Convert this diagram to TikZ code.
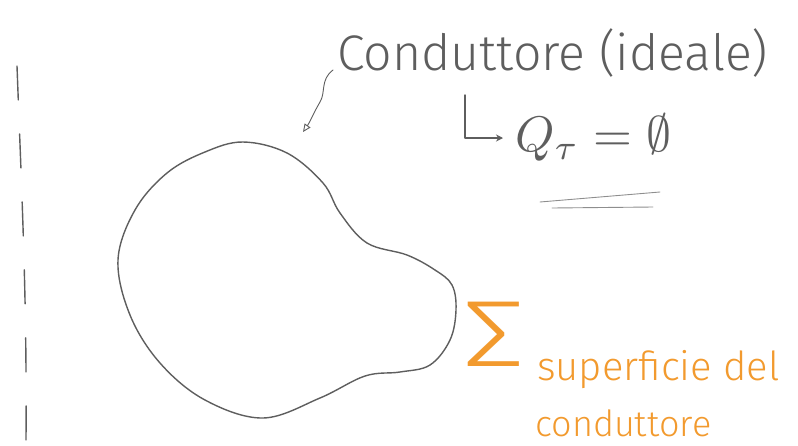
\documentclass[tikz,border=0pt]{standalone}
\usepackage{fontspec}
\setmainfont{Fira Sans}[UprightFont={* Light}]
\usetikzlibrary{arrows.meta}
\definecolor{pen}{HTML}{5E5E5E}
\definecolor{marker}{HTML}{F29A2E}
\begin{document}
\begin{tikzpicture}[
  x=1pt,y=-1pt,
  ink/.style={draw=pen,line width=1.4pt,line cap=round,line join=round},
  hand/.style={text=pen,inner sep=0pt,font=\fontsize{50}{56}\selectfont},
  note/.style={text=marker,inner sep=0pt,font=\fontsize{40}{44}\selectfont},
  ptr/.style={ink,line width=0.9pt,-{Triangle[open,length=8pt,width=7pt]}},
  larr/.style={ink,-{Stealth[length=7pt,width=7pt]}},
  dashline/.style={ink,dash pattern=on 34pt off 34pt}
]
\useasboundingbox (0,0) rectangle (798,445);
\draw[dashline] (17,66) .. controls (22,200) and (27,300) .. (26,440);
\draw[ink] plot[smooth cycle,tension=0.6] coordinates {
  (243,142) (287,153) (323,183) (340,213) (367,243) (407,255)
  (435,270) (452,285) (456,310) (450,340) (430,365) (400,372)
  (365,376) (320,398) (263,418) (205,400) (160,363) (130,315)
  (118,260) (135,210) (167,173) (205,152)};
\node[hand,anchor=base west] (title) at (337,70) {Conduttore (ideale)};
\coordinate (tip) at (303,132);
\draw[ptr] ([xshift=-4pt]title.base west) .. controls (320,80) and (326,92) .. (320,102)
  .. controls (313,114) and (310,122) .. (tip);
\node[text=pen,inner sep=0pt,anchor=west] (charge) at (515,138)
  {\scalebox{5}{$Q_\tau=\emptyset$}};
\coordinate (hook) at (465,95);
\draw[larr] (hook) |- ([xshift=-12pt]charge.west);
\draw[ink,draw=pen!70,line width=0.9pt] (540,202) -- (660,192);
\draw[ink,draw=pen!70,line width=0.9pt] (552,208) -- (653,207);
\node[text=marker,inner sep=0pt,font=\fontsize{94}{94}\selectfont] (sigma) at (494,334)
  {\scalebox{1.35}[1]{Σ}};
\node[note,anchor=base west] (surf) at (537,380) {superficie del};
\node[note,anchor=base west,font=\fontsize{36}{40}\selectfont] (cond) at (535,436) {conduttore};
\end{tikzpicture}
\end{document}
